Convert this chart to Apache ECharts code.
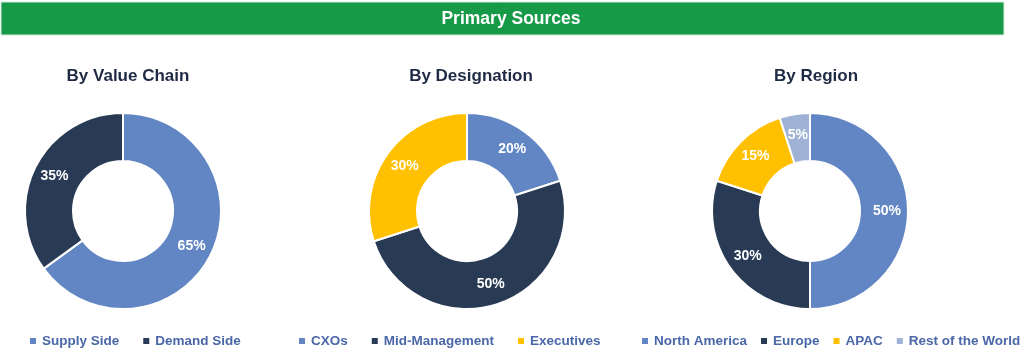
<!DOCTYPE html>
<html>
<head>
<meta charset="utf-8">
<title>Primary Sources</title>
<script src="https://cdn.jsdelivr.net/npm/echarts@6/dist/echarts.min.js"></script>
<style>
  html, body { margin: 0; padding: 0; background: #fff; }
  #chart { width: 1024px; height: 353px; }
</style>
</head>
<body>
<div id="chart"></div>
<script>
// chart data
const pieTitles = ['By Value Chain', 'By Designation', 'By Region'];

const valueChainNames = ['Supply Side', 'Demand Side'];
const valueChainValues = [65, 35];

const designationNames = ['CXOs', 'Mid-Management', 'Executives'];
const designationValues = [20, 50, 30];

const regionNames = ['North America', 'Europe', 'APAC', 'Rest of the World'];
const regionValues = [50, 30, 15, 5];

const BLUE = '#6285c4';
const NAVY = '#283a54';
const YELLOW = '#ffc000';
const LIGHT = '#9db2d4';

const baseFont = 'Liberation Sans, Arial, sans-serif';

function toData(names, values) {
    return names.map(function (n, i) {
        return { name: n, value: values[i] };
    });
}

function pieSeries(names, values, colors, cx) {
    return {
        type: 'pie',
        center: [cx, 211],
        radius: [50, 98],
        startAngle: 90,
        clockwise: true,
        color: colors,
        itemStyle: { borderColor: '#fff', borderWidth: 2 },
        label: {
            show: true,
            position: 'inside',
            formatter: '{c}%',
            color: '#fff',
            fontFamily: baseFont,
            fontWeight: 'bold',
            fontSize: 14
        },
        labelLine: { show: false },
        emphasis: { disabled: true },
        data: toData(names, values)
    };
}

// legend padding is 5px, so left is shifted by that
function legendFor(names, left, gap) {
    return {
        data: names,
        left: left - 5,
        top: 329,
        width: 420,
        icon: 'rect',
        itemWidth: 8,
        itemHeight: 8,
        itemGap: gap,
        textStyle: {
            color: '#4a67a8',
            fontFamily: baseFont,
            fontWeight: 'bold',
            fontSize: 13.5
        }
    };
}

function titleFor(text, cx) {
    return {
        text: text,
        left: cx,
        top: 63,
        textAlign: 'center',
        textStyle: {
            color: '#1f2a44',
            fontFamily: baseFont,
            fontWeight: 'bold',
            fontSize: 17
        }
    };
}

const chart = echarts.init(document.getElementById('chart'));

chart.setOption({
    animation: false,
    title: [
        titleFor(pieTitles[0], 123),
        titleFor(pieTitles[1], 466),
        titleFor(pieTitles[2], 811)
    ],
    legend: [
        legendFor(valueChainNames, 28, 22),
        legendFor(designationNames, 297, 22),
        legendFor(regionNames, 640, 12)
    ],
    graphic: [
        {
            type: 'rect',
            shape: { x: 1, y: 2, width: 1003, height: 33 },
            style: { fill: '#169a48', stroke: '#d8e8dc', lineWidth: 1 }
        },
        {
            type: 'text',
            x: 511,
            y: 19,
            style: {
                text: 'Primary Sources',
                fill: '#fff',
                font: 'bold 17.5px ' + baseFont,
                textAlign: 'center',
                textVerticalAlign: 'middle'
            }
        }
    ],
    series: [
        pieSeries(valueChainNames, valueChainValues, [BLUE, NAVY], 123),
        pieSeries(designationNames, designationValues, [BLUE, NAVY, YELLOW], 467),
        pieSeries(regionNames, regionValues, [BLUE, NAVY, YELLOW, LIGHT], 810)
    ]
});
</script>
</body>
</html>
